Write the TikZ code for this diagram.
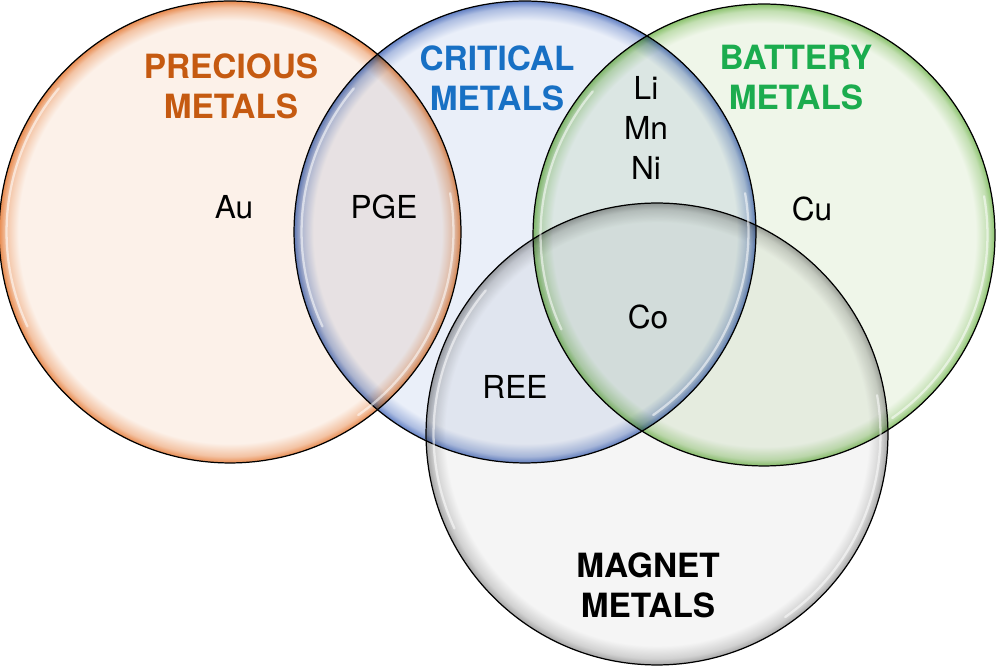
\documentclass[tikz,border=0pt]{standalone}
\usepackage{fontspec}
\setmainfont{TeX Gyre Heros}
\usepackage{xcolor}
\definecolor{colPrecious}{RGB}{197,90,17}
\definecolor{colCritical}{RGB}{24,112,196}
\definecolor{colBattery}{RGB}{27,172,78}
\definecolor{colMagnet}{RGB}{0,0,0}
\definecolor{rimPrecious}{RGB}{232,138,78}
\definecolor{bgPrecious}{RGB}{252,241,233}
\definecolor{rimCritical}{RGB}{98,128,196}
\definecolor{bgCritical}{RGB}{234,239,249}
\definecolor{rimBattery}{RGB}{138,194,108}
\definecolor{bgBattery}{RGB}{239,246,233}
\definecolor{rimMagnet}{RGB}{165,165,165}
\definecolor{bgMagnet}{RGB}{245,245,245}
\pgfdeclareradialshading{shPrecious}{\pgfpoint{0cm}{0cm}}{%
  color(0bp)=(bgPrecious); color(22.9bp)=(bgPrecious);
  color(24.3bp)=(rimPrecious!45!bgPrecious); color(25bp)=(rimPrecious);
  color(50bp)=(rimPrecious)}
\pgfdeclareradialshading{shCritical}{\pgfpoint{0cm}{0cm}}{%
  color(0bp)=(bgCritical); color(22.9bp)=(bgCritical);
  color(24.3bp)=(rimCritical!45!bgCritical); color(25bp)=(rimCritical);
  color(50bp)=(rimCritical)}
\pgfdeclareradialshading{shBattery}{\pgfpoint{0cm}{0cm}}{%
  color(0bp)=(bgBattery); color(22.9bp)=(bgBattery);
  color(24.3bp)=(rimBattery!45!bgBattery); color(25bp)=(rimBattery);
  color(50bp)=(rimBattery)}
\pgfdeclareradialshading{shMagnet}{\pgfpoint{0cm}{0cm}}{%
  color(0bp)=(bgMagnet); color(22.9bp)=(bgMagnet);
  color(24.3bp)=(rimMagnet!45!bgMagnet); color(25bp)=(rimMagnet);
  color(50bp)=(rimMagnet)}
\tikzset{
  setcirc/.style = {circle, draw=black, line width=0.7pt, inner sep=0pt,
                    minimum size=9.24cm, blend mode=multiply},
  pmset/.style   = {setcirc, shading=shPrecious},
  cmset/.style   = {setcirc, shading=shCritical},
  bmset/.style   = {setcirc, shading=shBattery},
  mmset/.style   = {setcirc, shading=shMagnet},
  gloss/.style   = {draw=white, line width=1.3pt, opacity=0.55, line cap=round},
  setlabel/.style= {font=\fontsize{19}{22.8}\selectfont\bfseries, align=center},
  elem/.style    = {font=\fontsize{18}{22.8}\selectfont, align=center},
}

\begin{document}
\begin{tikzpicture}[x=0.02cm, y=0.02cm]
\useasboundingbox (0,0) rectangle (1000,666);

%% the four sets
\node[pmset] (precious) at (230,434) {};
\node[cmset] (critical) at (525,434) {};
\node[bmset] (battery)  at (764,431) {};
\node[mmset] (magnet)   at (657,232) {};

%% glossy highlights
\foreach \s in {precious,critical,battery,magnet}{
  \draw[gloss] (\s.center) ++(140:4.47cm) arc[start angle=140, end angle=205, radius=4.47cm];
  \draw[gloss] (\s.center) ++(-55:4.47cm) arc[start angle=-55, end angle=10, radius=4.47cm];
}

%% set names
\node[setlabel, text=colPrecious] (precious_lbl) at (231,580) {PRECIOUS\\METALS};
\node[setlabel, text=colCritical] (critical_lbl) at (497,588) {CRITICAL\\METALS};
\node[setlabel, text=colBattery]  (battery_lbl)  at (796,588) {BATTERY\\METALS};
\node[setlabel, text=colMagnet]   (magnet_lbl)   at (648,81)  {MAGNET\\METALS};

%% elements
\node[elem] (au)    at (234,459) {Au};
\node[elem] (pge)   at (384,459) {PGE};
\node[elem] (limnni) at (646,538) {Li\\Mn\\Ni};
\node[elem] (cu)    at (812,457) {Cu};
\node[elem] (co)    at (648,349) {Co};
\node[elem] (ree)   at (515,279) {REE};

\end{tikzpicture}
\end{document}
